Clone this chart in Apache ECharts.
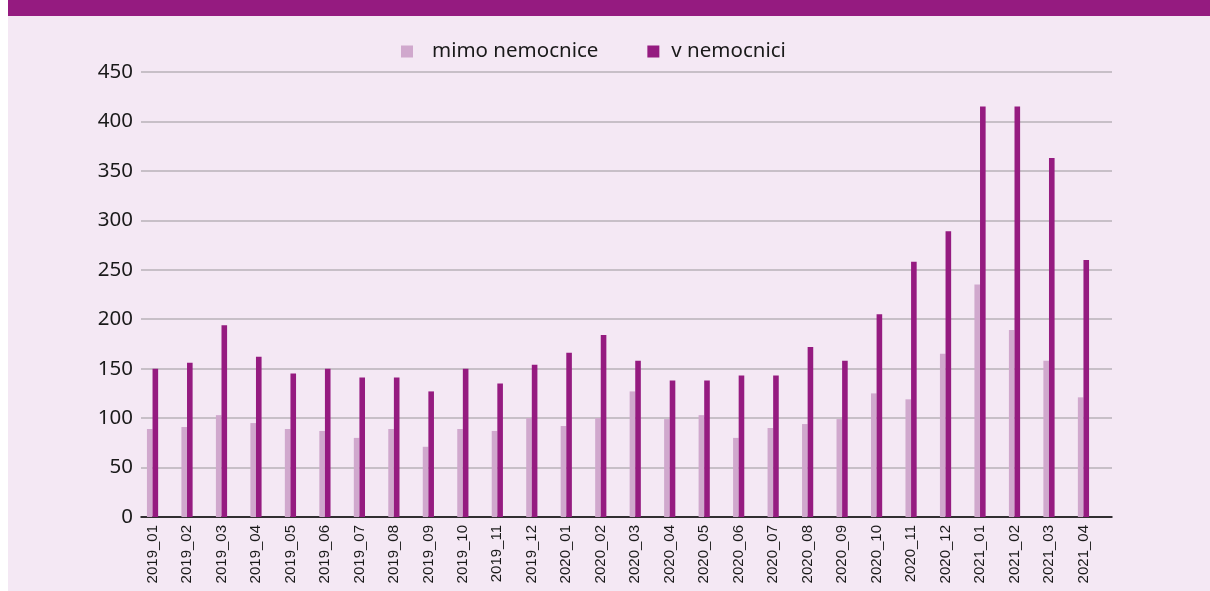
<!DOCTYPE html>
<html>
<head>
<meta charset="utf-8">
<script src="https://cdn.jsdelivr.net/npm/echarts@6/dist/echarts.min.js"></script>
<style>
  html, body { margin: 0; padding: 0; background: #ffffff; }
  #chart { width: 1210px; height: 591px; }
</style>
</head>
<body>
<div id="chart"></div>
<script>
const categories = [
  '2019_01','2019_02','2019_03','2019_04','2019_05','2019_06','2019_07','2019_08','2019_09','2019_10','2019_11','2019_12',
  '2020_01','2020_02','2020_03','2020_04','2020_05','2020_06','2020_07','2020_08','2020_09','2020_10','2020_11','2020_12',
  '2021_01','2021_02','2021_03','2021_04'
];
const mimoNemocnice = [89, 91, 103, 95, 89, 87, 80, 89, 71, 89, 87, 100, 92, 100, 127, 99, 103, 80, 90, 94, 99, 125, 119, 165, 235, 189, 158, 121];
const vNemocnici = [150, 156, 194, 162, 145, 150, 141, 141, 127, 150, 135, 154, 166, 184, 158, 138, 138, 143, 143, 172, 158, 205, 258, 289, 415, 415, 363, 260];
const seriesNames = ['mimo nemocnice', 'v nemocnici'];
const yMin = 0, yMax = 450, yStep = 50;

const FONT = '"Noto Sans", "Open Sans", sans-serif';
const XFONT = '"Liberation Sans", Arial, sans-serif';
const PURPLE = '#951b80';
const LIGHT = '#d0a8cd';
const BG = '#f4e8f4';

const chart = echarts.init(document.getElementById('chart'), null, { renderer: 'canvas' });
chart.setOption({
  backgroundColor: '#ffffff',
  animation: false,
  textStyle: { fontFamily: FONT },
  graphic: [
    { type: 'rect', z: -10, shape: { x: 8, y: 0, width: 1202, height: 591 }, style: { fill: BG } },
    { type: 'rect', z: -9, shape: { x: 8, y: 0, width: 1202, height: 16 }, style: { fill: PURPLE } }
  ],
  legend: {
    data: [
      { name: seriesNames[0], textStyle: { padding: [0, 0, 0, 14] } },
      { name: seriesNames[1], textStyle: { padding: [0, 0, 0, 7] } }
    ],
    top: 36,
    left: 396,
    itemWidth: 12,
    itemHeight: 12,
    itemGap: 49,
    icon: 'rect',
    textStyle: { fontFamily: FONT, fontSize: 20.5, color: '#1a1a1a' }
  },
  grid: [
    { left: 141, right: 98, top: 72, bottom: 74, outerBoundsMode: 'none', containLabel: false },
    { left: 135.3, right: 109.3, top: 72, bottom: 74, outerBoundsMode: 'none', containLabel: false }
  ],
  xAxis: [
    {
      gridIndex: 0, type: 'category', data: categories,
      axisLine: { show: true, lineStyle: { color: '#000000', width: 1.5 } },
      axisTick: { show: false }, axisLabel: { show: false }, splitLine: { show: false }
    },
    {
      gridIndex: 1, type: 'category', data: categories,
      axisLine: { show: false }, axisTick: { show: false },
      axisLabel: { rotate: 90, fontSize: 15, fontFamily: XFONT, color: '#1a1a1a', margin: 8, interval: 0 }
    }
  ],
  yAxis: [
    {
      gridIndex: 0, type: 'value', min: yMin, max: yMax, interval: yStep,
      axisLine: { show: false }, axisTick: { show: false },
      axisLabel: { fontSize: 20.5, fontFamily: FONT, color: '#1a1a1a', margin: 8 },
      splitLine: { lineStyle: { color: '#b8b2b8', width: 1.5 } }
    },
    {
      gridIndex: 1, type: 'value', min: yMin, max: yMax, interval: yStep,
      show: false, splitLine: { show: false }
    }
  ],
  series: [
    {
      name: seriesNames[0], type: 'bar', xAxisIndex: 1, yAxisIndex: 1,
      data: mimoNemocnice, barWidth: 5.6, barGap: '0%',
      itemStyle: { color: LIGHT }
    },
    {
      name: seriesNames[1], type: 'bar', xAxisIndex: 1, yAxisIndex: 1,
      data: vNemocnici, barWidth: 5.6, barGap: '0%',
      itemStyle: { color: PURPLE }
    }
  ]
});
</script>
</body>
</html>
